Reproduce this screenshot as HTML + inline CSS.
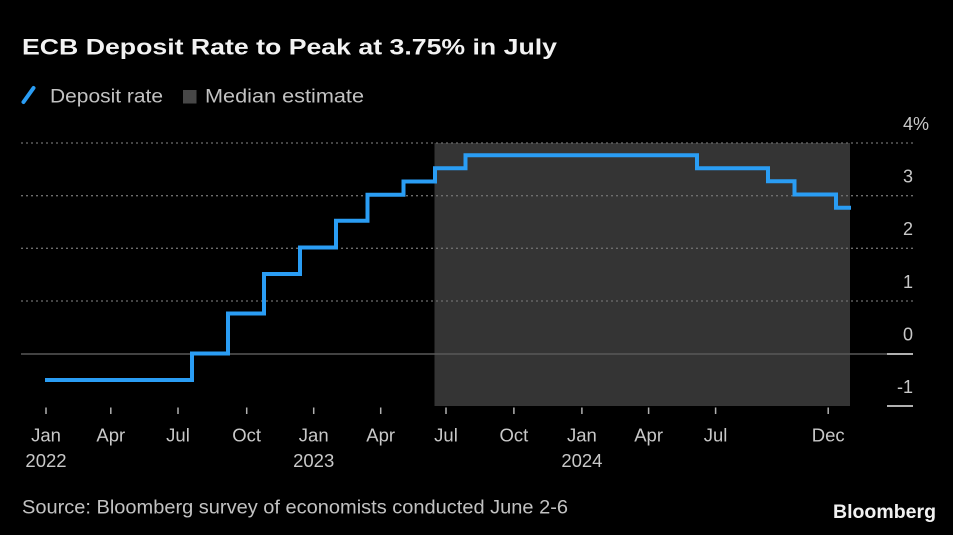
<!DOCTYPE html>
<html>
<head>
<meta charset="utf-8">
<style>
html,body{margin:0;padding:0;background:#000;}
svg{display:block;}
</style>
</head>
<body>
<svg width="953" height="535" viewBox="0 0 953 535" xmlns="http://www.w3.org/2000/svg" font-family="'Liberation Sans', sans-serif">
<rect x="0" y="0" width="953" height="535" fill="#000"/>
<!-- title -->
<text x="22" y="54.3" font-size="22.5" font-weight="bold" fill="#f2f2f2" textLength="535" lengthAdjust="spacingAndGlyphs">ECB Deposit Rate to Peak at 3.75% in July</text>
<!-- legend -->
<line x1="23.5" y1="102" x2="33.5" y2="88" stroke="#2a9df4" stroke-width="4" stroke-linecap="round"/>
<text x="50" y="102.3" font-size="19" fill="#c2c2c2" textLength="113" lengthAdjust="spacingAndGlyphs">Deposit rate</text>
<rect x="183" y="90" width="13.5" height="13.5" fill="#474747"/>
<text x="205" y="102.3" font-size="19" fill="#c2c2c2" textLength="159" lengthAdjust="spacingAndGlyphs">Median estimate</text>
<!-- shade -->
<rect x="434.5" y="143" width="415.5" height="263" fill="#343434"/>
<!-- gridlines -->
<g stroke="#6e6e6e" stroke-width="1.3" stroke-dasharray="2 3">
<line x1="21" y1="143" x2="913" y2="143"/>
<line x1="21" y1="195.7" x2="913" y2="195.7"/>
<line x1="21" y1="248.3" x2="913" y2="248.3"/>
<line x1="21" y1="301" x2="913" y2="301"/>
</g>
<line x1="21" y1="354" x2="887" y2="354" stroke="#585858" stroke-width="1.5"/>
<line x1="887" y1="354" x2="913" y2="354" stroke="#b0b0b0" stroke-width="2"/>
<line x1="887" y1="406" x2="913" y2="406" stroke="#b0b0b0" stroke-width="2"/>
<!-- y labels -->
<g font-size="18" fill="#c8c8c8" text-anchor="end">
<text x="913" y="130">4</text>
<text x="913" y="182.7">3</text>
<text x="913" y="235">2</text>
<text x="913" y="288">1</text>
<text x="913" y="340.7">0</text>
<text x="913" y="393">-1</text>
</g>
<text x="913" y="130" font-size="18" fill="#c8c8c8">%</text>
<!-- series -->
<path d="M45,380 H192 V353.5 H228 V313.5 H264 V274 H300 V247.5 H336 V220.8 H367.5 V194.7 H403.5 V181.5 H435 V168.3 H465.5 V155.2 H697 V168.3 H768 V181.3 H794.5 V194.5 H836 V207.8 H851" fill="none" stroke="#2a9df4" stroke-width="4" stroke-linejoin="miter"/>
<!-- x ticks -->
<g stroke="#b0b0b0" stroke-width="1.5">
<line x1="46" y1="407.5" x2="46" y2="414"/>
<line x1="110.8" y1="407.5" x2="110.8" y2="414"/>
<line x1="178" y1="407.5" x2="178" y2="414"/>
<line x1="246.7" y1="407.5" x2="246.7" y2="414"/>
<line x1="313.7" y1="407.5" x2="313.7" y2="414"/>
<line x1="380.7" y1="407.5" x2="380.7" y2="414"/>
<line x1="446" y1="407.5" x2="446" y2="414"/>
<line x1="513.9" y1="407.5" x2="513.9" y2="414"/>
<line x1="581.9" y1="407.5" x2="581.9" y2="414"/>
<line x1="648.6" y1="407.5" x2="648.6" y2="414"/>
<line x1="715.6" y1="407.5" x2="715.6" y2="414"/>
<line x1="828.2" y1="407.5" x2="828.2" y2="414"/>
</g>
<g font-size="18.5" fill="#c8c8c8" text-anchor="middle">
<text x="46" y="441.5">Jan</text>
<text x="110.8" y="441.5">Apr</text>
<text x="178" y="441.5">Jul</text>
<text x="246.7" y="441.5">Oct</text>
<text x="313.7" y="441.5">Jan</text>
<text x="380.7" y="441.5">Apr</text>
<text x="446" y="441.5">Jul</text>
<text x="513.9" y="441.5">Oct</text>
<text x="581.9" y="441.5">Jan</text>
<text x="648.6" y="441.5">Apr</text>
<text x="715.6" y="441.5">Jul</text>
<text x="828.2" y="441.5">Dec</text>
<text x="46" y="467">2022</text>
<text x="313.7" y="467">2023</text>
<text x="581.9" y="467">2024</text>
</g>
<!-- footer -->
<text x="22" y="513.3" font-size="19" fill="#c2c2c2" textLength="546" lengthAdjust="spacingAndGlyphs">Source: Bloomberg survey of economists conducted June 2-6</text>
<text x="833" y="518" font-size="19.5" font-weight="bold" fill="#f2f2f2" textLength="103" lengthAdjust="spacingAndGlyphs">Bloomberg</text>
</svg>
</body>
</html>
